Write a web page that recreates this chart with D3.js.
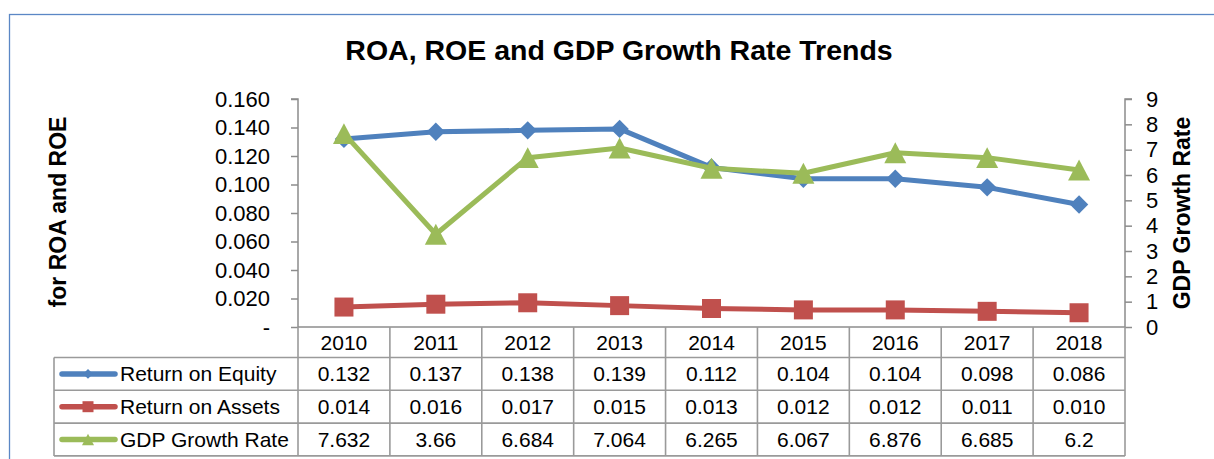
<!DOCTYPE html>
<html><head><meta charset="utf-8">
<script src="https://cdn.jsdelivr.net/npm/d3@7"></script>
<style>
html,body{margin:0;padding:0;background:#fff;}
svg{display:block;font-family:"Liberation Sans",Arial,sans-serif;}
</style></head>
<body>
<svg id="chart" width="1214" height="459"></svg>
<script>
const categories = ["2010","2011","2012","2013","2014","2015","2016","2017","2018"];
const roe = [0.132,0.137,0.138,0.139,0.112,0.104,0.104,0.098,0.086];
const roa = [0.014,0.016,0.017,0.015,0.013,0.012,0.012,0.011,0.010];
const gdp = [7.632,3.66,6.684,7.064,6.265,6.067,6.876,6.685,6.2];
const roeLabels = ["0.132","0.137","0.138","0.139","0.112","0.104","0.104","0.098","0.086"];
const roaLabels = ["0.014","0.016","0.017","0.015","0.013","0.012","0.012","0.011","0.010"];
const gdpLabels = ["7.632","3.66","6.684","7.064","6.265","6.067","6.876","6.685","6.2"];
const leftTicks = [0,0.02,0.04,0.06,0.08,0.10,0.12,0.14,0.16];
const rightTicks = [0,1,2,3,4,5,6,7,8,9];
const seriesNames = ["Return on Equity","Return on Assets","GDP Growth Rate"];

const colors = ["#4F81BD","#C0504D","#9BBB59"];
const svg = d3.select("#chart");
const L = 298, R = 1125, T = 99, B = 327;
const rowH = 32.8, headerB = 357.5, legendL = 54;

// outer border
svg.append("rect").attr("x",9.5).attr("y",14.5).attr("width",1210).attr("height",470)
  .attr("fill","none").attr("stroke","#5B87C5").attr("stroke-width",1.3);

// title
svg.append("text").attr("x",619).attr("y",60).attr("text-anchor","middle")
  .attr("font-size",28.5).attr("font-weight","bold").text("ROA, ROE and GDP Growth Rate Trends");

const x = d3.scaleBand().domain(categories).range([L,R]).padding(0);
const yL = d3.scaleLinear().domain([0,0.16]).range([B,T]);
const yR = d3.scaleLinear().domain([0,9]).range([B,T]);
const cx = d => x(d) + x.bandwidth()/2;

// left axis
const axL = d3.axisLeft(yL).tickValues(leftTicks).tickSize(7).tickPadding(21)
  .tickFormat(d => d === 0 ? "-" : d3.format(".3f")(d));
const gL = svg.append("g").attr("transform",`translate(${L},0)`).call(axL);
gL.select(".domain").attr("stroke","#8c8c8c").attr("stroke-width",1.5).attr("d",`M-7,${T}H0V${B}`);
gL.selectAll(".tick line").attr("stroke","#8c8c8c").attr("stroke-width",1.5);
gL.selectAll(".tick text").attr("font-size",22).attr("fill","#000").attr("font-family","Liberation Sans, Arial, sans-serif");

// right axis
const axR = d3.axisRight(yR).tickValues(rightTicks).tickSize(7).tickPadding(14).tickFormat(d3.format("d"));
const gR = svg.append("g").attr("transform",`translate(${R},0)`).call(axR);
gR.select(".domain").attr("stroke","#8c8c8c").attr("stroke-width",1.5).attr("d",`M7,${T}H0V${B}`);
gR.selectAll(".tick line").attr("stroke","#8c8c8c").attr("stroke-width",1.5);
gR.selectAll(".tick text").attr("font-size",22).attr("fill","#000").attr("font-family","Liberation Sans, Arial, sans-serif");

// axis titles
svg.append("text").attr("transform","translate(66,212) rotate(-90)").attr("text-anchor","middle")
  .attr("font-size",23).attr("font-weight","bold").text("for ROA and ROE");
svg.append("text").attr("transform","translate(1190,213) rotate(-90)").attr("text-anchor","middle")
  .attr("font-size",23).attr("font-weight","bold").text("GDP Growth Rate");

// data table grid
const grid = svg.append("g").attr("stroke","#9a9a9a").attr("stroke-width",1.6).attr("fill","none");
const tableBottom = headerB + 3*rowH;
grid.append("line").attr("x1",L).attr("x2",R).attr("y1",B).attr("y2",B).attr("stroke","#8c8c8c");
categories.forEach(c => {
  grid.append("line").attr("x1",x(c)).attr("x2",x(c)).attr("y1",B).attr("y2",tableBottom);
});
grid.append("line").attr("x1",R).attr("x2",R).attr("y1",B).attr("y2",tableBottom);
grid.append("line").attr("x1",legendL).attr("x2",legendL).attr("y1",headerB).attr("y2",tableBottom);
for (let i=0;i<=3;i++){
  const yy = headerB + i*rowH;
  grid.append("line").attr("x1",legendL).attr("x2",R).attr("y1",yy).attr("y2",yy);
}

// header years
svg.append("g").selectAll("text").data(categories).join("text")
  .attr("x",d=>cx(d)).attr("y",(B+headerB)/2+7.5).attr("text-anchor","middle")
  .attr("font-size",21).text(d=>d);

// value rows
const rowsLabels = [roeLabels, roaLabels, gdpLabels];
rowsLabels.forEach((arr,ri) => {
  svg.append("g").selectAll("text").data(arr).join("text")
    .attr("x",(d,i)=>cx(categories[i])).attr("y",headerB + ri*rowH + rowH/2 + 7.5)
    .attr("text-anchor","middle").attr("font-size",21).text(d=>d);
});

function marker(g, type, size, color){
  if(type==="diamond"){
    g.append("path").attr("d",d3.symbol(d3.symbolSquare, size*size)()).attr("transform","rotate(45)").attr("fill",color);
  } else if(type==="square"){
    g.append("path").attr("d",d3.symbol(d3.symbolSquare, size*size)()).attr("fill",color);
  } else {
    const h = size*0.95, w = size;
    g.append("path").attr("d",`M0,${-h/2}L${w/2},${h/2}L${-w/2},${h/2}Z`).attr("fill",color);
  }
}

// legend keys
const types = ["diamond","square","triangle"];
const legendSizes = [7,11,12];
seriesNames.forEach((n,i) => {
  const yy = headerB + i*rowH + rowH/2;
  svg.append("line").attr("x1",62).attr("x2",115).attr("y1",yy).attr("y2",yy)
    .attr("stroke",colors[i]).attr("stroke-width",5.5).attr("stroke-linecap","round");
  marker(svg.append("g").attr("transform",`translate(88,${yy})`), types[i], legendSizes[i], colors[i]);
  svg.append("text").attr("x",120).attr("y",yy+7.5).attr("font-size",21).text(n);
});

// series lines
const series = [
  {vals: roe, y: yL, type:"diamond", size:13},
  {vals: roa, y: yL, type:"square", size:19},
  {vals: gdp, y: yR, type:"triangle", size:22}
];
series.forEach((s,i) => {
  const line = d3.line().x((d,j)=>cx(categories[j])).y(d=>s.y(d));
  svg.append("path").attr("d",line(s.vals)).attr("fill","none")
    .attr("stroke",colors[i]).attr("stroke-width",5).attr("stroke-linejoin","round");
  s.vals.forEach((v,j) => {
    marker(svg.append("g").attr("transform",`translate(${cx(categories[j])},${s.y(v)})`), s.type, s.size, colors[i]);
  });
});
</script>
</body></html>
